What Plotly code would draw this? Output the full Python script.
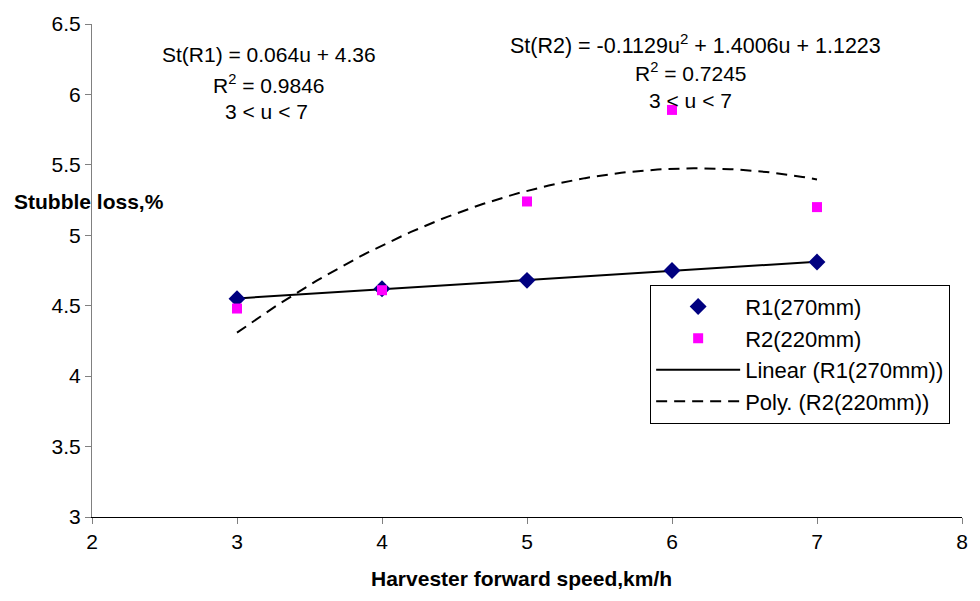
import numpy as np
import plotly.graph_objects as go

speed = [3, 4, 5, 6, 7]
r1_loss = [4.55, 4.62, 4.68, 4.75, 4.81]
r2_loss = [4.48, 4.61, 5.24, 5.89, 5.20]
x_ticks = [2, 3, 4, 5, 6, 7, 8]
y_ticks = [3, 3.5, 4, 4.5, 5, 5.5, 6, 6.5]

FONT = "Liberation Sans, Arial, sans-serif"

# trendlines fitted to the data
xs = np.linspace(3, 7, 81)
lin = np.polyfit(speed, r1_loss, 1)
poly = np.polyfit(speed, r2_loss, 2)

fig = go.Figure()
fig.add_trace(go.Scatter(x=xs, y=np.polyval(lin, xs), mode="lines", name="Linear (R1(270mm))",
                         legendrank=3, line=dict(color="black", width=2)))
fig.add_trace(go.Scatter(x=xs, y=np.polyval(poly, xs), mode="lines", name="Poly. (R2(220mm))",
                         legendrank=4, line=dict(color="black", width=2, dash="11px,7px")))
fig.add_trace(go.Scatter(x=speed, y=r1_loss, mode="markers", name="R1(270mm)", legendrank=1,
                         marker=dict(symbol="diamond", size=13, color="#000080")))
fig.add_trace(go.Scatter(x=speed, y=r2_loss, mode="markers", name="R2(220mm)", legendrank=2,
                         marker=dict(symbol="square", size=10, color="#FF00FF")))

ann = []
def txt(x, y, t, size=21, bold=False, anchor="center"):
    ann.append(dict(x=x, y=y, xref="paper", yref="paper", text=("<b>%s</b>" % t) if bold else t,
                    showarrow=False, xanchor=anchor, yanchor="middle",
                    font=dict(family=FONT, size=size, color="black")))

def px_x(p):
    return (p - 92) / 876.0

def px_y(p):
    return (517 - p) / 501.0

txt(px_x(270), px_y(47), "St(R1) = 0.064u + 4.36")
txt(px_x(270), px_y(77), "R<sup>2</sup> = 0.9846")
txt(px_x(268), px_y(105), "3 &lt; u &lt; 7")
txt(px_x(700), px_y(36), "St(R2) = -0.1129u<sup>2</sup> + 1.4006u + 1.1223", size=21.5)
txt(px_x(695), px_y(65), "R<sup>2</sup> = 0.7245")
txt(px_x(695), px_y(94), "3 &lt; u &lt; 7")
txt(px_x(11), px_y(196), "Stubble loss,%", size=21, bold=True, anchor="left")
txt(px_x(524), px_y(580), "Harvester forward speed,km/h", size=21, bold=True)

fig.update_layout(
    width=980, height=601,
    margin=dict(l=92, r=12, t=16, b=84),
    paper_bgcolor="white", plot_bgcolor="white",
    font=dict(family=FONT, size=21, color="black"),
    showlegend=True,
    legend=dict(x=px_x(654), y=px_y(281), xanchor="left", yanchor="top",
                bordercolor="black", borderwidth=1, bgcolor="white",
                font=dict(family=FONT, size=22, color="black"),
                itemwidth=84, tracegroupgap=0),
    annotations=ann,
    xaxis=dict(range=[2, 8], tickvals=x_ticks, showgrid=False, zeroline=False,
               showline=True, linecolor="black", linewidth=1,
               ticks="outside", ticklen=6, tickcolor="#808080",
               tickfont=dict(family=FONT, size=21, color="black")),
    yaxis=dict(range=[3, 6.5], tickvals=y_ticks, showgrid=False, zeroline=False,
               showline=True, linecolor="#808080", linewidth=1,
               ticks="outside", ticklen=6, tickcolor="#808080",
               tickfont=dict(family=FONT, size=21, color="black")),
)

fig.write_html("out.html")
